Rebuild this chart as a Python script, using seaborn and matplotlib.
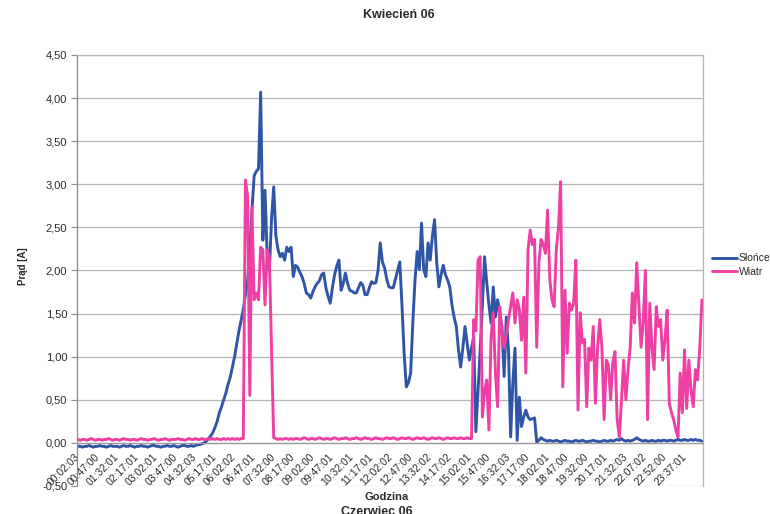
import matplotlib
matplotlib.use("Agg")
import matplotlib.pyplot as plt
import numpy as np
import pandas as pd
import seaborn as sns

# Category labels: one every 9 samples (5-minute sampling, 45-minute label step)
time_labels = [
    "00:02:03", "00:47:00", "01:32:01", "02:17:01", "03:02:01", "03:47:00",
    "04:32:03", "05:17:01", "06:02:02", "06:47:01", "07:32:00", "08:17:00",
    "09:02:00", "09:47:01", "10:32:01", "11:17:01", "12:02:02", "12:47:00",
    "13:32:02", "14:17:02", "15:02:01", "15:47:00", "16:32:03", "17:17:00",
    "18:02:01", "18:47:00", "19:32:00", "20:17:01", "21:32:03", "22:07:02",
    "22:52:00", "23:37:01",
]

# Current from the solar panel [A], one row per 45-minute block
sun = [
    -0.04, -0.04, -0.05, -0.04, -0.04, -0.03, -0.04, -0.05, -0.04,
    -0.04, -0.03, -0.04, -0.04, -0.05, -0.04, -0.03, -0.04, -0.04,
    -0.04, -0.05, -0.04, -0.03, -0.04, -0.04, -0.03, -0.04, -0.05,
    -0.04, -0.04, -0.03, -0.04, -0.04, -0.05, -0.04, -0.03, -0.03,
    -0.04, -0.04, -0.05, -0.04, -0.04, -0.03, -0.04, -0.04, -0.03,
    -0.04, -0.05, -0.04, -0.03, -0.03, -0.04, -0.04, -0.03, -0.04,
    -0.03, -0.02, -0.02, -0.01, 0.00, 0.02, 0.05, 0.08, 0.12,
    0.18, 0.25, 0.35, 0.42, 0.50, 0.58, 0.68, 0.76, 0.88,
    1.00, 1.15, 1.30, 1.42, 1.55, 1.72, 1.88, 2.25, 2.70,
    3.10, 3.15, 3.18, 4.07, 2.35, 2.93, 2.16, 2.00, 2.60,
    2.97, 2.40, 2.24, 2.16, 2.20, 2.12, 2.27, 2.22, 2.27,
    1.93, 2.06, 2.04, 1.98, 1.93, 1.85, 1.74, 1.72, 1.68,
    1.75, 1.81, 1.85, 1.88, 1.95, 1.97, 1.80, 1.70, 1.62,
    1.80, 1.95, 2.05, 2.12, 1.77, 1.85, 1.97, 1.85, 1.77,
    1.76, 1.74, 1.74, 1.80, 1.86, 1.83, 1.72, 1.72, 1.80,
    1.87, 1.85, 1.86, 2.00, 2.32, 2.10, 2.03, 1.90, 1.81,
    1.80, 1.80, 1.90, 2.00, 2.10, 1.60, 1.04, 0.65, 0.70,
    0.81, 1.40, 1.89, 2.22, 2.01, 2.55, 2.01, 1.93, 2.32,
    2.12, 2.40, 2.59, 2.09, 1.81, 1.95, 2.06, 1.95, 1.89,
    1.81, 1.60, 1.46, 1.35, 1.08, 0.88, 1.10, 1.35, 1.15,
    0.96, 1.10, 1.23, 0.13, 0.60, 1.08, 1.60, 2.16, 1.86,
    1.60, 1.39, 1.81, 1.46, 1.66, 1.50, 1.35, 0.77, 1.46,
    1.08, 0.07, 0.70, 1.10, 0.03, 0.53, 0.19, 0.30, 0.38,
    0.30, 0.27, 0.28, 0.29, 0.01, 0.03, 0.06, 0.04, 0.03,
    0.02, 0.03, 0.02, 0.02, 0.03, 0.02, 0.01, 0.02, 0.03,
    0.02, 0.02, 0.01, 0.02, 0.03, 0.02, 0.02, 0.03, 0.02,
    0.01, 0.02, 0.02, 0.03, 0.02, 0.02, 0.01, 0.02, 0.03,
    0.02, 0.02, 0.03, 0.02, 0.03, 0.04, 0.03, 0.05, 0.03,
    0.02, 0.03, 0.02, 0.03, 0.04, 0.06, 0.04, 0.03, 0.02,
    0.03, 0.02, 0.02, 0.03, 0.02, 0.02, 0.03, 0.02, 0.03,
    0.03, 0.02, 0.03, 0.03, 0.02, 0.03, 0.04, 0.03, 0.03,
    0.04, 0.03, 0.03, 0.04, 0.03, 0.04, 0.03, 0.03, 0.02,
]

# Current from the wind turbine [A]
wind = [
    0.04, 0.03, 0.04, 0.04, 0.03, 0.04, 0.05, 0.04, 0.03,
    0.04, 0.04, 0.03, 0.04, 0.04, 0.05, 0.04, 0.03, 0.04,
    0.04, 0.03, 0.04, 0.05, 0.04, 0.04, 0.03, 0.04, 0.04,
    0.03, 0.04, 0.05, 0.04, 0.04, 0.03, 0.04, 0.04, 0.05,
    0.04, 0.03, 0.04, 0.04, 0.05, 0.04, 0.03, 0.04, 0.04,
    0.04, 0.05, 0.04, 0.04, 0.03, 0.04, 0.05, 0.04, 0.04,
    0.05, 0.04, 0.04, 0.05, 0.04, 0.04, 0.05, 0.04, 0.05,
    0.04, 0.05, 0.04, 0.04, 0.05, 0.04, 0.05, 0.04, 0.05,
    0.04, 0.05, 0.04, 0.05, 0.05, 3.05, 2.85, 0.55, 2.74,
    1.66, 1.74, 1.66, 2.27, 2.24, 1.60, 2.24, 2.16, 1.08,
    0.06, 0.05, 0.04, 0.05, 0.04, 0.05, 0.05, 0.04, 0.05,
    0.04, 0.05, 0.05, 0.04, 0.05, 0.06, 0.05, 0.04, 0.05,
    0.05, 0.04, 0.05, 0.06, 0.05, 0.04, 0.05, 0.05, 0.04,
    0.05, 0.06, 0.05, 0.04, 0.05, 0.05, 0.06, 0.05, 0.04,
    0.05, 0.05, 0.06, 0.05, 0.04, 0.05, 0.06, 0.05, 0.05,
    0.04, 0.05, 0.06, 0.05, 0.05, 0.04, 0.05, 0.06, 0.05,
    0.05, 0.06, 0.05, 0.04, 0.05, 0.06, 0.05, 0.05, 0.06,
    0.05, 0.04, 0.05, 0.06, 0.05, 0.05, 0.06, 0.05, 0.04,
    0.05, 0.06, 0.05, 0.05, 0.06, 0.05, 0.04, 0.05, 0.06,
    0.05, 0.05, 0.06, 0.05, 0.05, 0.06, 0.05, 0.05, 0.06,
    0.05, 0.05, 1.43, 1.30, 2.12, 2.16, 0.30, 0.60, 0.73,
    0.15, 1.23, 1.51, 0.81, 0.42, 1.58, 1.28, 1.10, 1.25,
    1.43, 1.58, 1.74, 1.39, 1.66, 1.55, 1.19, 1.69, 0.81,
    2.24, 2.47, 2.30, 2.36, 1.11, 2.09, 2.36, 2.30, 2.20,
    2.70, 1.90, 1.66, 1.58, 2.24, 2.50, 3.03, 0.65, 1.77,
    1.04, 1.62, 1.54, 1.62, 2.12, 0.38, 1.51, 1.16, 1.20,
    0.42, 1.10, 0.96, 1.35, 0.46, 1.11, 1.43, 1.10, 0.27,
    0.96, 0.90, 0.50, 0.93, 1.06, 0.27, 0.07, 0.50, 0.96,
    0.50, 0.85, 1.11, 1.74, 1.39, 2.09, 1.60, 1.11, 1.40,
    2.00, 0.27, 1.62, 1.11, 0.85, 1.58, 1.35, 1.43, 0.96,
    1.20, 1.54, 0.46, 0.35, 0.27, 0.15, 0.07, 0.81, 0.35,
    1.08, 0.40, 0.96, 0.60, 0.42, 0.85, 0.73, 1.10, 1.66,
]

series_names = ["Słońce", "Wiatr"]
BLUE = "#2F55A6"
PINK = "#EE3FA4"
TEXT = "#2a2a2a"

n = len(sun)
df = pd.DataFrame({
    "sample": list(range(n)) * 2,
    "current": sun + wind,
    "series": [series_names[0]] * n + [series_names[1]] * n,
})

sns.set_theme(style="white")
plt.rcParams["font.family"] = ["Liberation Sans", "DejaVu Sans"]

fig = plt.figure(figsize=(7.7, 5.14), dpi=100)
fig.patch.set_facecolor("white")
ax = fig.add_axes([0.100, 0.0545, 0.813, 0.8385])

sns.lineplot(
    data=df, x="sample", y="current", hue="series",
    palette={series_names[0]: BLUE, series_names[1]: PINK},
    linewidth=2.1, estimator=None, sort=False, legend=False, ax=ax,
)

# frame; the category axis line crosses the value axis at zero
ax.spines["bottom"].set_position(("data", 0))
ax.spines["bottom"].set_color("#9a9a9a")
ax.spines["bottom"].set_linewidth(0.9)
ax.spines["left"].set_color("#8a8a8a")
ax.spines["left"].set_linewidth(0.9)
ax.spines["right"].set_color("#b5b5b5")
ax.spines["right"].set_linewidth(0.9)
ax.spines["top"].set_color("#b5b5b5")
ax.spines["top"].set_linewidth(0.9)

# value axis
yticks = np.arange(-0.5, 4.51, 0.5)
ax.set_ylim(-0.5, 4.5)
ax.set_yticks(yticks)
ax.set_yticklabels([f"{v:.2f}".replace(".", ",") for v in yticks])
ax.yaxis.grid(True, color="#b5b5b5", linewidth=0.9)
ax.xaxis.grid(False)
ax.set_axisbelow(True)
ax.tick_params(axis="y", length=4, width=0.8, color="#8a8a8a", direction="out",
               labelsize=8, labelcolor=TEXT, pad=3, left=True)

# category axis
ax.set_xlim(-0.5, n - 0.5)
ax.set_xticks(list(range(0, n, 9)))
ax.set_xticklabels(time_labels, rotation=45, ha="right", va="center",
                   rotation_mode="anchor", fontsize=7.5, color=TEXT)
ax.tick_params(axis="x", length=0, pad=9, bottom=True)

ax.set_xlabel("")
ax.set_ylabel("")

fig.text(399 / 770, 1 - 15 / 514, "Kwiecień 06", ha="center", va="center",
         fontsize=9, fontweight="bold", color=TEXT)
fig.text(23 / 770, 1 - 266 / 514, "Prąd [A]", ha="center", va="center",
         rotation=90, fontsize=7, fontweight="bold", color=TEXT)
fig.text(387 / 770, 1 - 497 / 514, "Godzina", ha="center", va="center",
         fontsize=8, fontweight="bold", color=TEXT)
fig.text(377 / 770, 1 - 512 / 514, "Czerwiec 06", ha="center", va="center",
         fontsize=9, fontweight="bold", color=TEXT)

handles = [plt.Line2D([], [], color=BLUE, lw=2.1),
           plt.Line2D([], [], color=PINK, lw=2.1)]
fig.legend(handles, series_names, loc="center left",
           bbox_to_anchor=(712 / 770, 1 - 265 / 514), frameon=False,
           fontsize=7.5, handlelength=2.4, handletextpad=0.15,
           labelspacing=0.35, labelcolor=TEXT, borderaxespad=0, borderpad=0)

fig.savefig("out.png", dpi=100, facecolor="white")
